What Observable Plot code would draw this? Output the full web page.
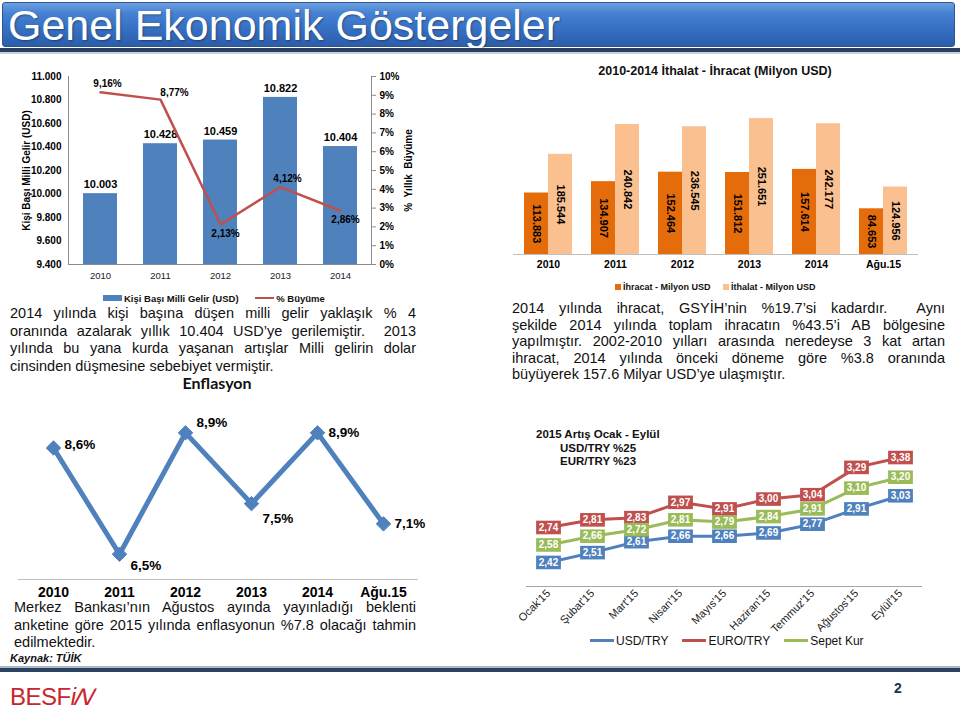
<!DOCTYPE html>
<html><head><meta charset="utf-8">
<script src="https://cdn.jsdelivr.net/npm/d3@7"></script>
<script src="https://cdn.jsdelivr.net/npm/@observablehq/plot@0.6"></script>
<style>
body{margin:0;background:#fff;}
#slide{position:relative;width:960px;height:717px;overflow:hidden;font-family:Arial,"Liberation Sans",sans-serif;color:#111;}
.abs{position:absolute;}
.para div{white-space:nowrap;}
.para .j{text-align:justify;text-align-last:justify;white-space:normal;}
.legend{font-size:9.5px;font-weight:bold;white-space:nowrap;}
</style></head><body>
<div id="slide">
  <div class="abs" style="left:2px;top:2px;width:953px;height:45px;border-radius:3px;background:linear-gradient(#6D9FE2 0%,#4580D2 25%,#3770C3 60%,#2B5DAA 100%);border:1px solid #2D558F;box-sizing:border-box;"></div>
  <div class="abs" style="left:8px;top:4px;font-size:43px;line-height:43px;color:#fff;text-shadow:1px 1px 2px rgba(0,0,0,.35);white-space:nowrap;">Genel Ekonomik Göstergeler</div>
  <div class="abs" style="left:0;top:48px;width:960px;height:4px;background:#2A3F5F;"></div>
  <div class="abs" style="left:0;top:52px;width:960px;height:2px;background:#C9D0DA;"></div>

  <div id="chartA" class="abs" style="left:0;top:62px;width:420px;height:228px;"></div>
  <div class="abs legend" style="left:103px;top:292px;">
    <span style="display:inline-block;width:19px;height:6px;background:#4F81BD;vertical-align:middle;"></span><span style="vertical-align:middle;margin-left:2px;">Kişi Başı Milli Gelir (USD)</span>
    <span style="display:inline-block;width:19px;height:2px;background:#C0504D;vertical-align:middle;margin-left:14px;"></span><span style="vertical-align:middle;margin-left:2px;">% Büyüme</span>
  </div>

  <div class="abs" style="left:500px;top:64px;width:430px;text-align:center;font-size:12.5px;font-weight:bold;">2010-2014 İthalat - İhracat (Milyon USD)</div>
  <div id="chartB" class="abs" style="left:500px;top:80px;"></div>
  <div class="abs legend" style="left:615px;top:281px;font-size:9px;">
    <span style="display:inline-block;width:6px;height:6px;background:#E46C0A;vertical-align:middle;"></span><span style="vertical-align:middle;margin-left:2px;">İhracat - Milyon USD</span>
    <span style="display:inline-block;width:6px;height:6px;background:#FAC090;vertical-align:middle;margin-left:10px;"></span><span style="vertical-align:middle;margin-left:2px;">İthalat - Milyon USD</span>
  </div>

  <div class="abs para" style="left:10px;top:305px;width:406px;font-size:14.5px;line-height:17.5px;">
    <div class="j">2014 yılında kişi başına düşen milli gelir yaklaşık % 4</div>
    <div class="j">oranında azalarak yıllık 10.404 USD’ye gerilemiştir.&nbsp; 2013</div>
    <div class="j">yılında bu yana kurda yaşanan artışlar Milli gelirin dolar</div>
    <div>cinsinden düşmesine sebebiyet vermiştir.</div>
  </div>
  <div class="abs" style="left:0;top:373px;width:434px;text-align:center;font-family:Lato,'Open Sans',sans-serif;font-weight:bold;font-size:16px;">Enflasyon</div>

  <div class="abs para" style="left:512px;top:300px;width:433px;font-size:14.5px;line-height:16.5px;">
    <div class="j">2014 yılında ihracat, GSYİH’nin %19.7’si kadardır.&nbsp; Aynı</div>
    <div class="j">şekilde 2014 yılında toplam ihracatın %43.5’i AB bölgesine</div>
    <div class="j">yapılmıştır. 2002-2010 yılları arasında neredeyse 3 kat artan</div>
    <div class="j">ihracat, 2014 yılında önceki döneme göre %3.8 oranında</div>
    <div>büyüyerek 157.6 Milyar USD’ye ulaşmıştır.</div>
  </div>

  <div id="chartC" class="abs" style="left:0;top:395px;"></div>
  <div class="abs para" style="left:14px;top:599px;width:402px;font-size:14.5px;line-height:17.5px;">
    <div class="j">Merkez Bankası’nın Ağustos ayında yayınladığı beklenti</div>
    <div class="j">anketine göre 2015 yılında enflasyonun %7.8 olacağı tahmin</div>
    <div>edilmektedir.</div>
  </div>
  <div class="abs" style="left:10px;top:652px;font-size:11px;font-weight:bold;font-style:italic;">Kaynak: TÜİK</div>

  <div id="chartD" class="abs" style="left:505px;top:425px;"></div>
  <div class="abs" style="left:536px;top:428px;font-size:11.5px;font-weight:bold;line-height:13.5px;white-space:nowrap;">
    <div>2015 Artış Ocak - Eylül</div>
    <div style="margin-left:24px;">USD/TRY %25</div>
    <div style="margin-left:24px;">EUR/TRY %23</div>
  </div>
  <div id="legendD" class="abs" style="left:590px;top:633px;font-size:12px;white-space:nowrap;"></div>

  <div class="abs" style="left:0;top:666px;width:960px;height:2px;background:#AEB8C6;"></div>
  <div class="abs" style="left:0;top:668px;width:960px;height:4px;background:#2B4261;"></div>
  <div class="abs" style="left:10px;top:683px;font-size:24px;color:#C8262C;letter-spacing:-0.5px;white-space:nowrap;font-family:'Liberation Sans Narrow',Arial,sans-serif;">BESF<span style="font-style:italic;">i</span><span style="font-style:italic;display:inline-block;transform:skewX(-18deg) scaleX(1.1);">N</span></div>
  <div class="abs" style="left:894px;top:680px;font-size:14px;font-weight:bold;color:#1F2F4F;">2</div>
</div>
<script>
// ---------- DATA ----------
const years = ["2010", "2011", "2012", "2013", "2014"];
const gniPerCapita = [10003, 10428, 10459, 10822, 10404];
const gdpGrowth = [9.16, 8.77, 2.13, 4.12, 2.86];
const gniTicks = [9400, 9600, 9800, 10000, 10200, 10400, 10600, 10800, 11000];
const growthTicks = [0, 1, 2, 3, 4, 5, 6, 7, 8, 9, 10];

const tradePeriods = ["2010", "2011", "2012", "2013", "2014", "Ağu.15"];
const exportsUSD = [113883, 134907, 152464, 151812, 157614, 84653];
const importsUSD = [185544, 240842, 236545, 251651, 242177, 124956];

const inflPeriods = ["2010", "2011", "2012", "2013", "2014", "Ağu.15"];
const inflation = [8.6, 6.5, 8.9, 7.5, 8.9, 7.1];

const months = ["Ocak'15", "Şubat'15", "Mart'15", "Nisan'15", "Mayıs'15", "Haziran'15", "Temmuz'15", "Ağustos'15", "Eylül'15"];
const usdTry = [2.42, 2.51, 2.61, 2.66, 2.66, 2.69, 2.77, 2.91, 3.03];
const eurTry = [2.74, 2.81, 2.83, 2.97, 2.91, 3.00, 3.04, 3.29, 3.38];
const sepetKur = [2.58, 2.66, 2.72, 2.81, 2.79, 2.84, 2.91, 3.10, 3.20];
const fxNames = ["USD/TRY", "EURO/TRY", "Sepet Kur"];
const fxColors = ["#4F81BD", "#C0504D", "#9BBB59"];

// ---------- HELPERS ----------
const FONT = "Arial, 'Liberation Sans', sans-serif";
const tr = d3.formatLocale({decimal: ",", thousands: ".", grouping: [3], currency: ["", ""]});
const fmtThousands = tr.format(",");
const fmt2 = tr.format(".2f");
const fmt1 = tr.format(".1f");
const baseStyle = {fontFamily: FONT, color: "#000", background: "transparent", overflow: "visible"};

// ---------- CHART A: GNI per capita + growth ----------
const gniData = years.map((year, i) => ({year, value: gniPerCapita[i]}));
const growthData = years.map((year, i) => ({year, value: gdpGrowth[i]}));
const A = {width: 420, height: 228, marginLeft: 68, marginRight: 49, marginTop: 14, marginBottom: 26};
const xA = {type: "band", domain: years, paddingInner: 0.44, paddingOuter: 0.22};

const chartA1 = Plot.plot({
  ...A, style: {...baseStyle, fontSize: "10px"},
  x: xA,
  y: {domain: [gniTicks[0], gniTicks[gniTicks.length - 1]]},
  marks: [
    Plot.barY(gniData, {x: "year", y1: gniTicks[0], y2: "value", fill: "#4F81BD"}),
    Plot.ruleY([gniTicks[0]], {stroke: "#8C8C8C"}),
    Plot.frame({anchor: "left", stroke: "#8C8C8C"}),
    Plot.axisY({ticks: gniTicks, tickFormat: fmtThousands, tickSize: 0, tickPadding: 7, fontWeight: "bold", fontSize: 10,
      label: "Kişi Başı Milli Gelir (USD)", labelAnchor: "center", labelOffset: 46, labelArrow: "none"}),
    Plot.axisX({tickSize: 0, tickPadding: 8, fontSize: 9.5, label: null, fill: "#222"}),
    Plot.text(gniData, {x: "year", y: "value", text: d => fmtThousands(d.value), dy: -9, fontWeight: "bold", fontSize: 11})
  ]
});
const pct = d => fmt2(d.value) + "%";
const chartA2 = Plot.plot({
  ...A, style: {...baseStyle, fontSize: "10px"},
  x: {...xA, axis: null},
  y: {domain: [growthTicks[0], growthTicks[growthTicks.length - 1]]},
  marks: [
    Plot.frame({anchor: "right", stroke: "#8C8C8C"}),
    Plot.axisY({anchor: "right", ticks: growthTicks, tickFormat: d => d + "%", tickSize: 4, tickPadding: 4, fontWeight: "bold", fontSize: 10,
      label: "%  Yıllık  Büyüme", labelAnchor: "center", labelOffset: 40, labelArrow: "none", stroke: "#8C8C8C"}),
    Plot.line(growthData, {x: "year", y: "value", stroke: "#C0504D", strokeWidth: 2.5}),
    Plot.text(growthData, {filter: (d, i) => i === 0 || i === 3, x: "year", y: "value", text: pct, dx: 7, dy: -8, fontWeight: "bold", fontSize: 10}),
    Plot.text(growthData, {filter: (d, i) => i === 1, x: "year", y: "value", text: pct, dx: 14, dy: -7, fontWeight: "bold", fontSize: 10}),
    Plot.text(growthData, {filter: (d, i) => i === 2 || i === 4, x: "year", y: "value", text: pct, dx: 5, dy: 9, fontWeight: "bold", fontSize: 10})
  ]
});
chartA2.style.position = "absolute"; chartA2.style.left = "0"; chartA2.style.top = "0";
const boxA = document.getElementById("chartA");
boxA.append(chartA1, chartA2);

// ---------- CHART B: exports / imports ----------
const tradeData = tradePeriods.map((period, i) => ({period, exp: exportsUSD[i], imp: importsUSD[i]}));
const HALF = 24;
const chartB = Plot.plot({
  width: 450, height: 194, marginLeft: 13, marginRight: 32, marginTop: 12, marginBottom: 20,
  style: {...baseStyle, fontSize: "10.5px"},
  x: {type: "band", domain: tradePeriods, paddingInner: 0.29, paddingOuter: 0.145},
  y: {domain: [0, 300000], axis: null},
  marks: [
    Plot.barY(tradeData, {x: "period", y: "exp", fill: "#E46C0A", insetRight: HALF}),
    Plot.barY(tradeData, {x: "period", y: "imp", fill: "#FAC090", insetLeft: HALF}),
    Plot.ruleY([0], {stroke: "#BFBFBF"}),
    Plot.axisX({tickSize: 0, tickPadding: 6, fontWeight: "bold", fontSize: 10.5, label: null}),
    Plot.text(tradeData, {x: "period", y: d => d.exp / 2, text: d => fmtThousands(d.exp), rotate: 90, dx: -HALF / 2, fontWeight: "bold", fontSize: 11}),
    Plot.text(tradeData, {x: "period", y: d => d.imp / 2, text: d => fmtThousands(d.imp), rotate: 90, dx: HALF / 2, fontWeight: "bold", fontSize: 11})
  ]
});
document.getElementById("chartB").append(chartB);

// ---------- CHART C: inflation ----------
const inflData = inflPeriods.map((period, i) => ({period, rate: inflation[i]}));
const inflDy = [-3, 11, -10, 15, 0, 0];
const inflText = d => fmt1(d.rate) + "%";
const chartC = Plot.plot({
  width: 430, height: 205, marginLeft: 18, marginRight: 12, marginTop: 7, marginBottom: 21,
  style: {...baseStyle, fontSize: "14px"},
  x: {type: "point", domain: inflPeriods, padding: 0.5},
  y: {domain: [6, 9.5], axis: null},
  marks: [
    Plot.ruleY([6], {stroke: "#BFBFBF"}),
    Plot.axisX({tickSize: 0, tickPadding: 8, fontWeight: "bold", fontSize: 14, label: null}),
    Plot.line(inflData, {x: "period", y: "rate", stroke: "#4F81BD", strokeWidth: 5}),
    Plot.dot(inflData, {x: "period", y: "rate", symbol: "diamond2", r: 6.5, fill: "#4F81BD", stroke: "#4F81BD", strokeWidth: 1}),
    ...inflDy.map((dy, k) => Plot.text(inflData, {filter: (d, i) => i === k, x: "period", y: "rate", text: inflText,
      textAnchor: "start", dx: 11, dy, fontWeight: "bold", fontSize: 13.5}))
  ]
});
document.getElementById("chartC").append(chartC);

// ---------- CHART D: FX rates ----------
const fxValues = [usdTry, eurTry, sepetKur];
const fxData = fxNames.flatMap((series, s) => months.map((month, i) => ({month, series, value: fxValues[s][i]})));
const labelBox = {draw(context, size) { const r = Math.sqrt(size / Math.PI); const w = r * 1.55, h = r * 0.85; context.rect(-w, -h, 2 * w, 2 * h); }};
const chartD = Plot.plot({
  width: 455, height: 206, marginLeft: 21, marginRight: 38, marginTop: 8, marginBottom: 45,
  style: {...baseStyle, fontSize: "11px"},
  x: {type: "point", domain: months, padding: 0.5},
  y: {domain: [2.2, 3.6], axis: null},
  color: {domain: fxNames, range: fxColors},
  marks: [
    Plot.ruleY([2.2], {stroke: "#A6A6A6"}),
    Plot.axisX({tickSize: 0, tickRotate: -45, tickPadding: 5, fontSize: 11, label: null, fill: "#222"}),
    Plot.line(fxData, {x: "month", y: "value", z: "series", stroke: "series", strokeWidth: 3}),
    Plot.dot(fxData, {x: "month", y: "value", fill: "series", symbol: labelBox, r: 8}),
    Plot.text(fxData, {x: "month", y: "value", text: d => fmt2(d.value), fill: "white", fontWeight: "bold", fontSize: 10})
  ]
});
document.getElementById("chartD").append(chartD);

const legendD = document.getElementById("legendD");
legendD.innerHTML = fxNames.map((n, i) =>
  `<span style="display:inline-block;width:24px;height:3px;background:${fxColors[i]};vertical-align:middle;"></span><span style="vertical-align:middle;margin-left:2px;margin-right:14px;">${n}</span>`
).join("");
</script>
</body></html>
